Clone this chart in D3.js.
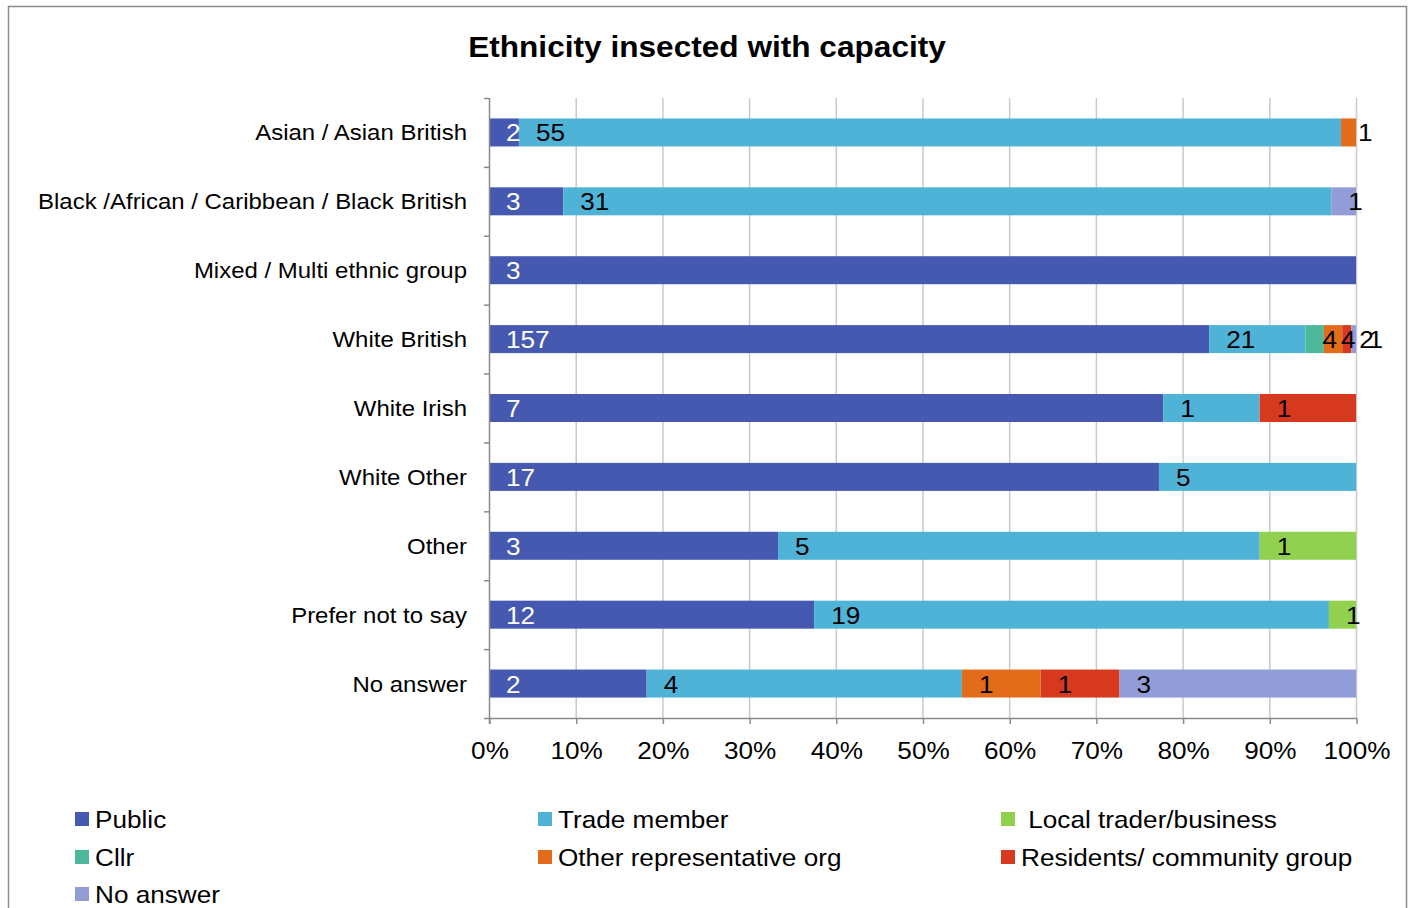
<!DOCTYPE html>
<html>
<head>
<meta charset="utf-8">
<script src="https://cdn.jsdelivr.net/npm/d3@7"></script>
<style>
  html, body { margin: 0; padding: 0; background: #fff; }
  svg { display: block; font-family: "Liberation Sans", Arial, sans-serif; }
</style>
</head>
<body>
<svg id="chart" width="1413" height="908"></svg>
<script>
// Ethnic groups (top to bottom)
const categories = [
  "Asian / Asian British",
  "Black /African / Caribbean / Black British",
  "Mixed / Multi ethnic group",
  "White British",
  "White Irish",
  "White Other",
  "Other",
  "Prefer not to say",
  "No answer"
];

// Respondent capacity series, counts per ethnic group
const seriesNames = [
  "Public", "Trade member", "Local trader/business", "Cllr",
  "Other representative org", "Residents/ community group", "No answer"
];
const publicVals   = [2, 3, 3, 157, 7, 17, 3, 12, 2];
const tradeVals    = [55, 31, 0, 21, 1, 5, 5, 19, 4];
const localVals    = [0, 0, 0, 0, 0, 0, 1, 1, 0];
const cllrVals     = [0, 0, 0, 4, 0, 0, 0, 0, 0];
const otherRepVals = [1, 0, 0, 4, 0, 0, 0, 0, 1];
const residentVals = [0, 0, 0, 2, 1, 0, 0, 0, 1];
const noAnswerVals = [0, 1, 0, 1, 0, 0, 0, 0, 3];

const xTicks = [0, 0.1, 0.2, 0.3, 0.4, 0.5, 0.6, 0.7, 0.8, 0.9, 1.0];
const colors = ["#4559B0", "#4FB3D8", "#92D050", "#4DB89A", "#E36C1B", "#D7391F", "#929DD7"];

// Legend entries (text as shown, in drawing order)
const legendLabels = [
  "Public", "Trade member", " Local trader/business",
  "Cllr", "Other representative org", "Residents/ community group",
  "No answer"
];
const legendColorIdx = [0, 1, 2, 3, 4, 5, 6];

const allVals = [publicVals, tradeVals, localVals, cllrVals, otherRepVals, residentVals, noAnswerVals];

const rows = categories.map((c, i) => {
  const r = { cat: c };
  seriesNames.forEach((s, k) => { r[s] = allVals[k][i]; });
  return r;
});

// Text is drawn slightly wide, like the original document's typeface
const SX = 1.09;
function place(sel, fx, fy) {
  return sel.attr("x", 0).attr("y", 0)
    .attr("transform", (d, i) => `translate(${fx(d, i)},${fy(d, i)}) scale(${SX},1)`);
}

const svg = d3.select("#chart");

// Chart area frame
svg.append("rect")
  .attr("x", 8.5).attr("y", 6.5).attr("width", 1398).attr("height", 920)
  .attr("fill", "#fff").attr("stroke", "#8c8c8c").attr("stroke-width", 1.5);

// Title
place(svg.append("text"), () => 707, () => 57)
  .attr("text-anchor", "middle")
  .attr("font-size", 29).attr("font-weight", "bold")
  .attr("fill", "#000")
  .text("Ethnicity insected with capacity");

const plot = { left: 489, right: 1356, top: 98, bottom: 718 };

const x = d3.scaleLinear().domain([0, 1]).range([plot.left, plot.right]);
const yBand = d3.scaleBand().domain(categories).range([plot.top, plot.bottom]);

// Vertical gridlines
svg.append("g").selectAll("line")
  .data(xTicks.slice(1))
  .join("line")
  .attr("x1", d => x(d) + 0.5).attr("x2", d => x(d) + 0.5)
  .attr("y1", plot.top).attr("y2", plot.bottom)
  .attr("stroke", "#c9c9c9").attr("stroke-width", 1.5);

// Stacked, normalised bars
const stack = d3.stack().keys(seriesNames).offset(d3.stackOffsetExpand);
const layers = stack(rows);

const barH = 28;
const g = svg.append("g");
layers.forEach((layer, k) => {
  g.append("g").selectAll("rect")
    .data(layer.filter(d => d[1] - d[0] > 0))
    .join("rect")
    .attr("x", d => x(d[0]))
    .attr("width", d => x(d[1]) - x(d[0]))
    .attr("y", d => yBand(d.data.cat) + yBand.bandwidth() / 2 - barH / 2)
    .attr("height", barH)
    .attr("fill", colors[k]);
});

// Bottom axis
const xAxis = d3.axisBottom(x)
  .tickValues(xTicks)
  .tickFormat(d3.format(".0%"))
  .tickSize(6).tickSizeOuter(0);
const xg = svg.append("g").attr("transform", `translate(0.5,${plot.bottom})`).call(xAxis);
xg.select(".domain").attr("stroke", "#8a8a8a").attr("stroke-width", 1.5);
xg.selectAll(".tick line").attr("stroke", "#8a8a8a").attr("stroke-width", 1.5);
xg.selectAll(".tick text")
  .attr("font-size", 24).attr("font-family", "Liberation Sans, Arial, sans-serif")
  .attr("fill", "#000").attr("dy", 0).attr("y", 0).attr("x", 0)
  .attr("transform", `translate(0,41) scale(${SX},1)`);

// Left axis with boundary ticks between categories
const yg = svg.append("g");
yg.append("line")
  .attr("x1", plot.left + 0.5).attr("x2", plot.left + 0.5)
  .attr("y1", plot.top).attr("y2", plot.bottom + 6)
  .attr("stroke", "#8a8a8a").attr("stroke-width", 1.5);
const boundaries = categories.map(c => yBand(c)).concat([plot.bottom]);
yg.selectAll("line.tk")
  .data(boundaries)
  .join("line").attr("class", "tk")
  .attr("x1", plot.left - 5).attr("x2", plot.left)
  .attr("y1", d => d + 0.5).attr("y2", d => d + 0.5)
  .attr("stroke", "#8a8a8a").attr("stroke-width", 1.5);

place(yg.selectAll("text").data(categories).join("text"),
      () => 467, d => yBand(d) + yBand.bandwidth() / 2 + 8)
  .attr("text-anchor", "end")
  .attr("font-size", 22)
  .attr("fill", "#000")
  .text(d => d);

// Data labels: placed just after the start of each segment
layers.forEach((layer, k) => {
  place(g.append("g").selectAll("text")
          .data(layer.filter(d => d[1] - d[0] > 0))
          .join("text"),
        d => x(d[0]) + 17,
        d => yBand(d.data.cat) + yBand.bandwidth() / 2 + 9)
    .attr("font-size", 24)
    .attr("fill", k === 0 ? "#fff" : "#000")
    .text(d => d.data[seriesNames[k]]);
});

// Legend
const legendPos = [
  [75, 819], [538, 819], [1001, 819],
  [75, 857], [538, 857], [1001, 857],
  [75, 894]
];
const lg = svg.append("g");
legendLabels.forEach((lab, i) => {
  const [lx, ly] = legendPos[i];
  lg.append("rect")
    .attr("x", lx).attr("y", ly - 7).attr("width", 14).attr("height", 14)
    .attr("fill", colors[legendColorIdx[i]]);
  place(lg.append("text"), () => lx + 20, () => ly + 9)
    .attr("font-size", 24).attr("fill", "#000")
    .style("white-space", "pre")
    .text(lab);
});
</script>
</body>
</html>
